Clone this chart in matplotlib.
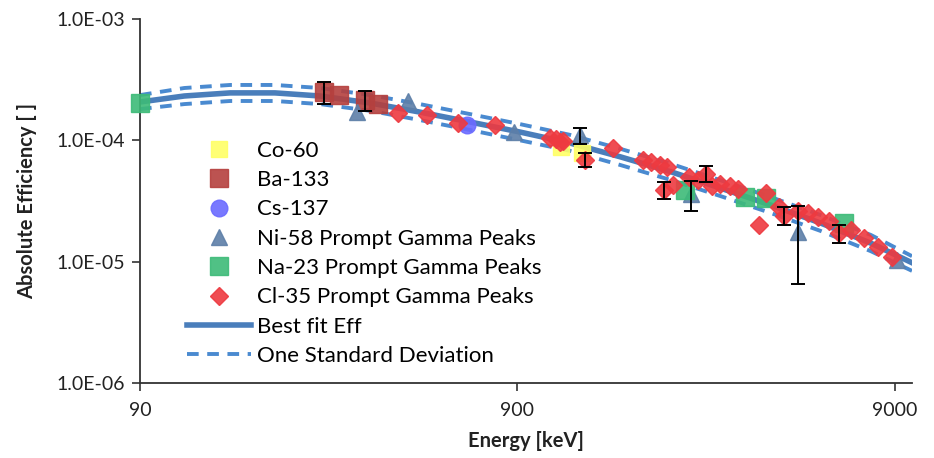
import numpy as np
import matplotlib
matplotlib.use("Agg")
import matplotlib.pyplot as plt

plt.rcParams['font.family'] = ['Lato', 'DejaVu Sans']

# measured peaks: energy [keV], absolute efficiency, y error (0 = none drawn)
co60_e = [1173, 1332]
co60_eff = [8.8e-5, 7.9e-5]
co60_err = [0, 0]

ba133_e = [276, 303, 356, 384]
ba133_eff = [2.5e-4, 2.35e-4, 2.15e-4, 2.0e-4]
ba133_err = [5.0e-5, 0, 4.0e-5, 0]

cs137_e = [662]
cs137_eff = [1.33e-4]
cs137_err = [0]

ni58_e = [338, 463, 880, 1320, 2590, 4980, 9140]
ni58_eff = [1.71e-4, 2.1e-4, 1.17e-4, 1.1e-4, 3.6e-5, 1.75e-5, 1.03e-5]
ni58_err = [0, 0, 0, 1.7e-5, 1.0e-5, 1.1e-5, 0]

na23_e = [90, 2500, 3610, 4100, 6590]
na23_eff = [2.03e-4, 3.9e-5, 3.4e-5, 3.35e-5, 2.1e-5]
na23_err = [0, 0, 0, 0, 0]

cl35_e = [435, 519, 628, 786, 1100, 1140, 1165, 1190, 1360, 1610, 1940, 2040,
          2150, 2240, 2200, 2320, 2560, 2710, 2850, 2950, 3100, 3300, 3450,
          3920, 4100, 4450, 4570, 4980, 5300, 5640, 6010, 6400, 6880, 7450,
          8150, 8860]
cl35_eff = [1.68e-4, 1.62e-4, 1.39e-4, 1.34e-4, 1.05e-4, 1.02e-4, 9.6e-5, 9.8e-5,
            6.9e-5, 8.6e-5, 6.9e-5, 6.6e-5, 6.3e-5, 6.0e-5, 3.9e-5, 4.3e-5,
            5.0e-5, 4.7e-5, 5.3e-5, 4.2e-5, 4.4e-5, 4.2e-5, 4.0e-5, 2.0e-5,
            3.65e-5, 2.8e-5, 2.4e-5, 2.6e-5, 2.5e-5, 2.35e-5, 2.15e-5, 1.72e-5,
            1.82e-5, 1.56e-5, 1.32e-5, 1.1e-5]
cl35_err = [0, 0, 0, 0, 0, 0, 0, 0, 9e-6, 0, 0, 0, 0, 0, 6e-6, 0, 0, 0, 8e-6,
            0, 0, 0, 0, 0, 0, 0, 4e-6, 0, 0, 0, 0, 3e-6, 0, 0, 0, 0]

# fit curve and one-sigma band
fit_e = [90, 118, 156, 205, 270, 367, 496, 671, 915, 1240, 1690, 2300, 3100,
         4220, 5730, 7780, 10000]
fit_eff = [2.07e-4, 2.32e-4, 2.46e-4, 2.46e-4, 2.32e-4, 2.03e-4, 1.71e-4,
           1.42e-4, 1.17e-4, 9.5e-5, 7.3e-5, 5.5e-5, 4.05e-5, 2.93e-5,
           2.08e-5, 1.42e-5, 9.8e-6]
fit_hi = [2.36e-4, 2.70e-4, 2.86e-4, 2.86e-4, 2.70e-4, 2.36e-4, 1.99e-4,
          1.65e-4, 1.36e-4, 1.11e-4, 8.5e-5, 6.4e-5, 4.7e-5, 3.41e-5,
          2.42e-5, 1.66e-5, 1.11e-5]
fit_lo = [1.81e-4, 1.99e-4, 2.11e-4, 2.11e-4, 1.99e-4, 1.75e-4, 1.47e-4,
          1.22e-4, 1.0e-4, 8.2e-5, 6.25e-5, 4.7e-5, 3.48e-5, 2.52e-5,
          1.79e-5, 1.22e-5, 8.4e-6]

fig = plt.figure(figsize=(9.34, 4.58), dpi=100)
ax = fig.add_axes([140/934, 1-383/458, 772/934, 364/458])

solid_c = '#4a7ebb'
dash_c = '#4a8ad0'

ax.plot(fit_e, fit_eff, '-', color=solid_c, lw=4, label='Best fit Eff', zorder=2)
ax.plot(fit_e, fit_hi, '--', color=dash_c, lw=2.8, dashes=(3, 2.2),
        label='One Standard Deviation', zorder=2)
ax.plot(fit_e, fit_lo, '--', color=dash_c, lw=2.8, dashes=(3, 2.2), zorder=2)

series = [
    (co60_e, co60_eff, co60_err, 's', '#ffff66', 12, 'Co-60'),
    (ba133_e, ba133_eff, ba133_err, 's', '#b5403e', 13, 'Ba-133'),
    (cs137_e, cs137_eff, cs137_err, 'o', '#6b6bff', 12, 'Cs-137'),
    (ni58_e, ni58_eff, ni58_err, '^', '#5d7fa8', 11, 'Ni-58 Prompt Gamma Peaks'),
    (na23_e, na23_eff, na23_err, 's', '#3dbb78', 13, 'Na-23 Prompt Gamma Peaks'),
    (cl35_e, cl35_eff, cl35_err, 'D', '#ee3a40', 9, 'Cl-35 Prompt Gamma Peaks'),
]

handles = []
for e, eff, err, m, c, ms, lab in series:
    h, = ax.plot(e, eff, m, color=c, ms=ms, mec=c, alpha=0.9, label=lab,
                 zorder=3, clip_on=False)
    handles.append(h)
    e = np.array(e)
    eff = np.array(eff)
    err = np.array(err)
    k = err > 0
    if k.any():
        ax.errorbar(e[k], eff[k], yerr=err[k], fmt='none', ecolor='black',
                    elinewidth=1.4, capsize=5, capthick=1.4, zorder=4)

ax.set_xscale('log')
ax.set_yscale('log')
ax.set_xlim(90, 10000)
ax.set_ylim(1e-6, 1e-3)
ax.set_xticks([90, 900, 9000])
ax.set_xticklabels(['90', '900', '9000'])
ax.set_yticks([1e-6, 1e-5, 1e-4, 1e-3])
ax.set_yticklabels(['1.0E-06', '1.0E-05', '1.0E-04', '1.0E-03'])
ax.minorticks_off()
ax.tick_params(axis='both', labelsize=14, length=6, width=1.2, color='#333333',
               labelcolor='#222222')
ax.tick_params(axis='x', pad=8)
ax.tick_params(axis='y', pad=5)
ax.spines['top'].set_visible(False)
ax.spines['right'].set_visible(False)
for s in ['left', 'bottom']:
    ax.spines[s].set_linewidth(1.3)
    ax.spines[s].set_color('#333333')

ax.set_xlabel('Energy [keV]', fontsize=14.5, fontweight='bold', color='#222222',
              labelpad=8)
ax.set_ylabel('Absolute Efficiency [ ]', fontsize=14.5, fontweight='bold',
              color='#222222', labelpad=14)

lines = ax.get_lines()
leg = ax.legend(handles=handles + [lines[0], lines[1]], loc='upper left',
                bbox_to_anchor=(0.049, 0.69), frameon=False, fontsize=16,
                handlelength=2.9, handletextpad=0.27, labelspacing=0.42,
                borderaxespad=0, numpoints=1)

plt.savefig('out.png', dpi=100)
plt.close()
